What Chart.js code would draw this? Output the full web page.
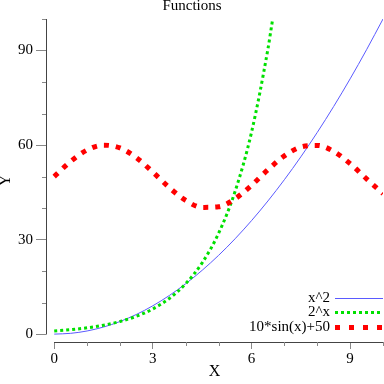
<!DOCTYPE html>
<html>
<head>
<meta charset="utf-8">
<script src="https://cdn.jsdelivr.net/npm/chart.js@4/dist/chart.umd.min.js"></script>
<style>
  html, body { margin: 0; padding: 0; background: #fff; }
  canvas { display: block; }
</style>
</head>
<body>
<canvas id="chart" width="384" height="384"></canvas>
<script>
// values
const xs = [0, 0.5, 1, 1.5, 2, 2.5, 3, 3.5, 4, 4.5, 5, 5.5, 6, 6.5, 7, 7.5, 8, 8.5, 9, 9.5, 10];
const squareVals = [0, 0.25, 1, 2.25, 4, 6.25, 9, 12.25, 16, 20.25, 25, 30.25, 36, 42.25, 49, 56.25, 64, 72.25, 81, 90.25, 100];
const powXs = [0, 0.5, 1, 1.5, 2, 2.5, 3, 3.5, 4, 4.5, 5, 5.5, 6, 6.5, 6.64];
const powVals = [1, 1.41, 2, 2.83, 4, 5.66, 8, 11.31, 16, 22.63, 32, 45.25, 64, 90.51, 99.7];
const sinVals = [50, 54.79, 58.41, 59.97, 59.09, 55.98, 51.41, 46.49, 42.43, 40.22, 40.41, 42.95, 47.21, 52.15, 56.57, 59.38, 59.89, 57.98, 54.12, 49.25, 44.56];
const seriesNames = ['x^2', '2^x', '10*sin(x)+50'];
const xTickLabels = [0, 3, 6, 9];
const yTickLabels = [0, 30, 60, 90];

const serif = "'Liberation Serif', 'Times New Roman', serif";
const tickGrey = '#888';
const spineGrey = '#444';

function pts(xv, yv) {
    return xv.map((x, i) => ({x: x, y: yv[i]}));
}

// axis lines that stop at the data range, plus the short minor ticks
const spines = {
    id: 'spines',
    beforeDatasetsDraw(chart) {
        const ctx = chart.ctx;
        const xs_ = chart.scales.x;
        const ys_ = chart.scales.y;
        const area = chart.chartArea;
        ctx.save();
        ctx.lineWidth = 1;
        ctx.strokeStyle = spineGrey;
        ctx.beginPath();
        ctx.moveTo(area.left + 0.5, Math.round(ys_.getPixelForValue(0)) + 0.5);
        ctx.lineTo(area.left + 0.5, Math.round(ys_.getPixelForValue(100)));
        ctx.moveTo(Math.round(xs_.getPixelForValue(0)), area.bottom + 0.5);
        ctx.lineTo(Math.round(xs_.getPixelForValue(10)), area.bottom + 0.5);
        ctx.stroke();
        ctx.strokeStyle = tickGrey;
        ctx.beginPath();
        ys_.ticks.forEach(t => {
            if (yTickLabels.includes(t.value)) return;
            const p = Math.round(ys_.getPixelForValue(t.value)) + 0.5;
            ctx.moveTo(area.left - 4, p);
            ctx.lineTo(area.left, p);
        });
        xs_.ticks.forEach(t => {
            if (xTickLabels.includes(t.value)) return;
            const p = Math.round(xs_.getPixelForValue(t.value)) + 0.5;
            ctx.moveTo(p, area.bottom);
            ctx.lineTo(p, area.bottom + 4);
        });
        ctx.stroke();
        ctx.restore();
    }
};

// legend: text on the left, line sample on the right, bottom-right of the plot
const legendDash = [[], [3, 3], [5, 9]];
const sideLegend = {
    id: 'sideLegend',
    afterDatasetsDraw(chart) {
        const ctx = chart.ctx;
        const area = chart.chartArea;
        const sampleW = 48;
        const rowH = 14.7;
        const lastY = 327;
        const n = chart.data.datasets.length;
        ctx.save();
        chart.data.datasets.forEach((ds, i) => {
            const y = lastY - (n - 1 - i) * rowH;
            const x1 = area.right - sampleW;
            ctx.fillStyle = '#000';
            ctx.font = '15px ' + serif;
            ctx.textAlign = 'right';
            ctx.textBaseline = 'middle';
            ctx.fillText(ds.label, x1 - 5, y);
            ctx.strokeStyle = ds.borderColor;
            ctx.lineWidth = ds.borderWidth;
            ctx.lineCap = 'butt';
            ctx.setLineDash(legendDash[i]);
            ctx.beginPath();
            const yy = ds.borderWidth % 2 ? Math.round(y) + 0.5 : Math.round(y);
            ctx.moveTo(x1, yy);
            ctx.lineTo(area.right, yy);
            ctx.stroke();
        });
        ctx.restore();
    }
};

const config = {
    type: 'line',
    data: {
        datasets: [{
            label: seriesNames[0],
            data: pts(xs, squareVals),
            borderColor: '#5a5aff',
            borderWidth: 1,
            pointRadius: 0,
            cubicInterpolationMode: 'monotone',
            order: 3
        }, {
            label: seriesNames[1],
            data: pts(powXs, powVals),
            borderColor: '#00e000',
            borderWidth: 3,
            borderDash: [3, 3],
            borderCapStyle: 'butt',
            pointRadius: 0,
            cubicInterpolationMode: 'monotone',
            order: 2
        }, {
            label: seriesNames[2],
            data: pts(xs, sinVals),
            borderColor: '#ff0000',
            borderWidth: 5,
            borderDash: [5, 7],
            borderCapStyle: 'butt',
            pointRadius: 0,
            cubicInterpolationMode: 'monotone',
            order: 1
        }]
    },
    options: {
        responsive: false,
        devicePixelRatio: 1,
        animation: false,
        layout: { padding: 0, autoPadding: false },
        plugins: {
            legend: { display: false },
            tooltip: { enabled: false },
            title: {
                display: true,
                text: 'Functions',
                color: '#000',
                font: { family: serif, size: 15, weight: 'normal', lineHeight: '13px' },
                padding: { top: 0, bottom: 6 }
            }
        },
        scales: {
            x: {
                type: 'linear',
                min: -0.25,
                max: 10,
                afterFit: s => { s.height = 42; },
                border: { display: false },
                grid: {
                    drawOnChartArea: false,
                    tickLength: 7,
                    tickColor: c => xTickLabels.includes(c.tick && c.tick.value) ? tickGrey : 'rgba(0,0,0,0)'
                },
                ticks: {
                    stepSize: 1,
                    includeBounds: false,
                    autoSkip: false,
                    maxRotation: 0,
                    padding: 1,
                    color: '#000',
                    font: { family: serif, size: 15 },
                    callback: v => xTickLabels.includes(v) ? String(v) : ''
                },
                title: {
                    display: true,
                    text: 'X',
                    color: '#000',
                    font: { family: serif, size: 16, lineHeight: '18px' },
                    padding: { top: 0, bottom: 3 }
                }
            },
            y: {
                min: -2.5,
                max: 100,
                afterFit: s => { s.width = 46; },
                border: { display: false },
                grid: {
                    drawOnChartArea: false,
                    tickLength: 10,
                    tickColor: c => yTickLabels.includes(c.tick && c.tick.value) ? tickGrey : 'rgba(0,0,0,0)'
                },
                ticks: {
                    stepSize: 10,
                    includeBounds: false,
                    autoSkip: false,
                    padding: 3,
                    color: '#000',
                    font: { family: serif, size: 15 },
                    callback: v => yTickLabels.includes(v) ? String(v) : ''
                },
                title: {
                    display: true,
                    text: 'Y',
                    color: '#000',
                    font: { family: serif, size: 16, lineHeight: '12px' },
                    padding: { top: 0, bottom: 0 }
                }
            }
        }
    },
    plugins: [spines, sideLegend]
};

new Chart(document.getElementById('chart'), config);
</script>
</body>
</html>
